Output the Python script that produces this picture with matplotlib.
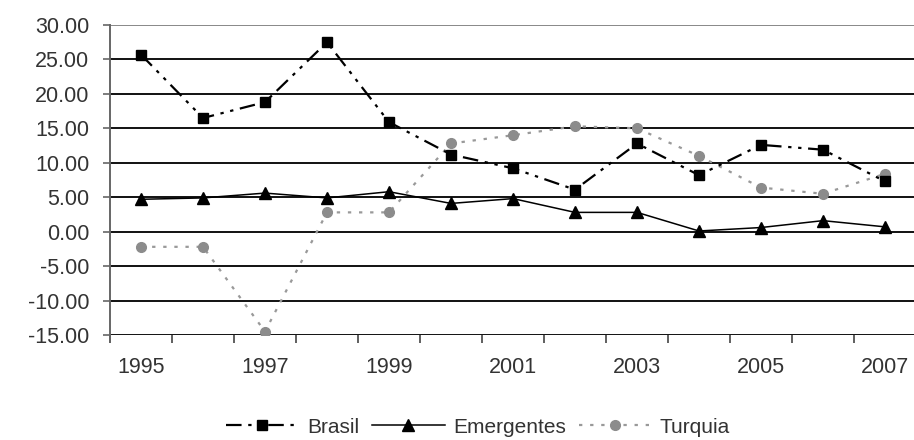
import numpy as np
import matplotlib.pyplot as plt
from matplotlib.ticker import FixedLocator, FormatStrFormatter

plt.rcParams['font.family'] = ['Liberation Sans', 'DejaVu Sans']

## Data
years = list(range(1995, 2008))
brasil = [25.7, 16.5, 18.8, 27.5, 15.9, 11.2, 9.2, 6.1, 12.8, 8.2, 12.6, 11.9, 7.3]
emergentes = [4.7, 4.9, 5.6, 4.9, 5.8, 4.1, 4.8, 2.8, 2.8, 0.1, 0.6, 1.6, 0.7]
turquia = [-2.2, -2.2, -14.5, 2.8, 2.8, 12.8, 14.0, 15.3, 15.0, 11.0, 6.4, 5.5, 8.4]
year_labels = [str(y) for y in years[::2]]

## Plotting
fig = plt.figure(figsize=(9.14, 4.4), dpi=100)
ax = fig.add_axes([110/914, 1 - 335/440, 806/914, 310/440])
x = np.arange(len(years))

ax.set_ylim(-15, 30)
ax.set_xlim(-0.5, len(years) - 0.5)
for yv in np.arange(-15, 31, 5):
    ax.axhline(yv, color='#888888' if yv == 30 else '#111111', lw=1.4, zorder=1)

ax.plot(x, brasil, color='black', lw=1.6, dashes=(7, 3, 1.5, 3, 1.5, 3),
        marker='s', ms=7.8, label='Brasil', zorder=4)
ax.plot(x, emergentes, color='black', lw=1.1, marker='^', ms=8,
        label='Emergentes', zorder=3)
ax.plot(x, turquia, color='#999999', lw=1.6, dashes=(1.5, 3.5), marker='o',
        ms=7, mfc='#8c8c8c', mec='#8c8c8c', label='Turquia', zorder=2)

for s in ['top', 'right', 'bottom']:
    ax.spines[s].set_visible(False)
ax.spines['left'].set_color('#666666')
ax.spines['left'].set_linewidth(1.4)

ax.yaxis.set_major_locator(FixedLocator(np.arange(-15, 31, 5)))
ax.yaxis.set_major_formatter(FormatStrFormatter('%.2f'))
ax.tick_params(axis='y', length=5, width=1.2, color='#666666', pad=10,
               labelsize=15.5, labelcolor='#333333')

ax.set_xticks(x[::2])
ax.set_xticklabels(year_labels)
ax.set_xticks(np.arange(-0.5, len(years)), minor=True)
ax.tick_params(axis='x', which='major', length=0, pad=16, labelsize=15.5,
               labelcolor='#333333')
ax.tick_params(axis='x', which='minor', length=6, width=1.2, color='#444444')

fig.legend(loc='center', bbox_to_anchor=(478/914, 1 - 427/440), ncol=3,
           frameon=False, fontsize=15, handlelength=3.5, columnspacing=0.6,
           handletextpad=0.4, labelcolor='#333333')

plt.savefig('out.png', dpi=100)
